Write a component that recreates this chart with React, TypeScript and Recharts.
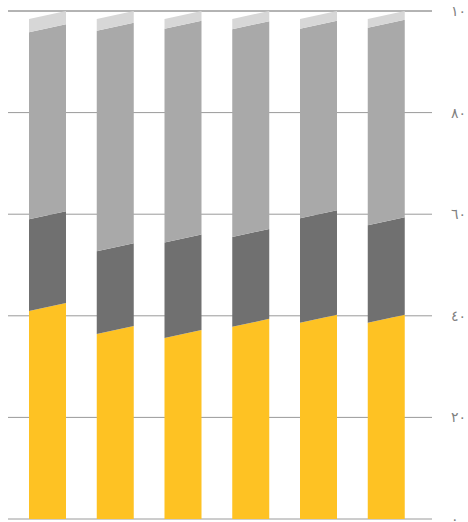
import { BarChart, Bar, XAxis, YAxis, CartesianGrid } from "recharts";

const categories = ["١", "٢", "٣", "٤", "٥", "٦"];
const seriesA = [42.5, 38.0, 37.2, 39.4, 40.2, 40.2];
const seriesB = [18.1, 16.3, 18.8, 17.7, 20.6, 19.2];
const seriesC = [36.8, 43.4, 42.1, 40.9, 37.3, 38.9];
const seriesD = [2.6, 2.3, 1.9, 2.0, 1.9, 1.7];

const tickValues = [0, 20, 40, 60, 80, 100];
const tickLabels = ["٠", "٢٠", "٤٠", "٦٠", "٨٠", "١٠٠"];

const data = categories.map((name, i) => ({
  name,
  a: seriesA[i],
  b: seriesB[i],
  c: seriesC[i],
  d: seriesD[i],
}));

// how far the left corner of each segment edge drops below the right one
const SLANT = 8;

function slanted(flatBottom: boolean) {
  return (props: any) => {
    const { x, y, width, height, fill } = props;
    if (height == null || width == null) return <g />;
    const bottomLeft = flatBottom ? y + height : y + height + SLANT;
    const pts = [
      [x, y + SLANT],
      [x + width, y],
      [x + width, y + height],
      [x, bottomLeft],
    ]
      .map((p) => p.join(","))
      .join(" ");
    return <polygon points={pts} fill={fill} />;
  };
}

export default function App() {
  return (
    <div style={{ position: "absolute", top: 0, left: 0 }}>
      <BarChart
        width={468}
        height={522}
        data={data}
        margin={{ top: 11, right: 0, bottom: 3, left: 8 }}
        barSize={37}
      >
        <CartesianGrid vertical={false} stroke="#9a9a9a" />
        <XAxis dataKey="name" hide padding={{ left: 6, right: 11.5 }} />
        <YAxis
          orientation="right"
          width={36}
          domain={[0, 100]}
          ticks={tickValues}
          interval={0}
          axisLine={false}
          tickLine={false}
          tickMargin={13}
          tickFormatter={(v: number) => tickLabels[tickValues.indexOf(v)]}
          tick={{ fontSize: 14, fill: "#808080", fontFamily: "DejaVu Sans" }}
        />
        <Bar dataKey="a" stackId="s" fill="#fec223" shape={slanted(true)} isAnimationActive={false} />
        <Bar dataKey="b" stackId="s" fill="#707070" shape={slanted(false)} isAnimationActive={false} />
        <Bar dataKey="c" stackId="s" fill="#a9a9a9" shape={slanted(false)} isAnimationActive={false} />
        <Bar dataKey="d" stackId="s" fill="#d7d7d7" shape={slanted(false)} isAnimationActive={false} />
      </BarChart>
    </div>
  );
}
